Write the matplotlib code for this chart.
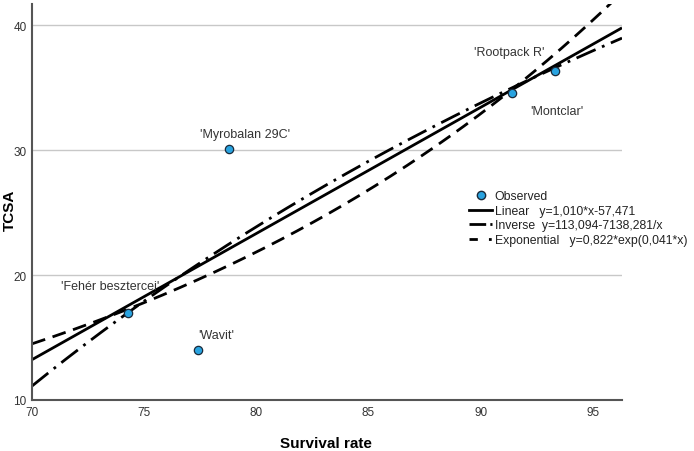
import numpy as np
import matplotlib
matplotlib.use("Agg")
import matplotlib.pyplot as plt
from matplotlib.lines import Line2D

plt.rcParams['font.family'] = ['Liberation Sans', 'DejaVu Sans']

names = ["'Myrobalan 29C'", "'Wavit'", "'Fehér besztercei'", "'Montclar'", "'Rootpack R'"]
survival = [78.8, 77.4, 74.3, 91.4, 93.3]
tcsa = [30.1, 14.0, 17.0, 34.6, 36.3]

lin_coef = [1.010, -57.471]
inv_coef = [113.094, -7138.281]
exp_coef = [0.822, 0.041]

lin_label = "Linear   y=1,010*x-57,471"
inv_label = "Inverse  y=113,094-7138,281/x"
exp_label = "Exponential   y=0,822*exp(0,041*x)"

xmin, xmax = 70, 96.3
ymin, ymax = 10, 41.7

fig = plt.figure(figsize=(6.94, 4.52), dpi=100)
ax = fig.add_axes([32/694, 1-401/452, (622-32)/694, (401-5)/452])

xs = np.linspace(xmin, xmax, 300)
ax.plot(xs, lin_coef[0]*xs + lin_coef[1], color='black', lw=2, solid_capstyle='butt')
ax.plot(xs, inv_coef[0] + inv_coef[1]/xs, color='black', lw=2, dashes=(7.5, 2.5, 1, 2.5))
ax.plot(xs, exp_coef[0]*np.exp(exp_coef[1]*xs), color='black', lw=2, dashes=(5, 2.8))

ax.scatter(survival, tcsa, s=36, color='#29a3e0', edgecolor='#1a2a3a', linewidth=0.9, zorder=5)

pos = {
    "'Myrobalan 29C'": (11, 11),
    "'Wavit'": (13, 11),
    "'Fehér besztercei'": (-13, 19),
    "'Montclar'": (32, -13),
    "'Rootpack R'": (-33, 14),
}
for n, x, y in zip(names, survival, tcsa):
    dx, dy = pos[n]
    ax.annotate(n, (x, y), xytext=(dx, dy), textcoords='offset points',
                ha='center', va='center', fontsize=9, color='#333333')

ax.set_xlim(xmin, xmax)
ax.set_ylim(ymin, ymax)
ax.set_xticks([70, 75, 80, 85, 90, 95])
ax.set_yticks([10, 20, 30, 40])
ax.yaxis.grid(True, color='#c8c8c8', lw=1)
ax.set_axisbelow(True)
ax.tick_params(length=0, labelsize=8.5, labelcolor='#333333', pad=4)
for s in ['top', 'right']:
    ax.spines[s].set_visible(False)
for s in ['left', 'bottom']:
    ax.spines[s].set_color('#555555')
    ax.spines[s].set_linewidth(1.5)

ax.set_xlabel('Survival rate', fontsize=11, fontweight='bold')
ax.set_ylabel('TCSA', fontsize=11, fontweight='bold')
ax.xaxis.set_label_coords((326-32)/590, (401-437)/396)
ax.yaxis.set_label_coords((17-32)/590, (401-210)/396)

handles = [
    Line2D([], [], ls='none', marker='o', markersize=6, markerfacecolor='#29a3e0', markeredgecolor='#1a2a3a'),
    Line2D([], [], color='black', lw=2),
    Line2D([], [], color='black', lw=2, dashes=(6, 1.5, 1, 1.5)),
    Line2D([], [], color='black', lw=2, dashes=(3, 4, 1, 1)),
]
fig.legend(handles, ['Observed', lin_label, inv_label, exp_label],
           loc='upper left', bbox_to_anchor=(463/694, 1-185/452), frameon=False,
           fontsize=8.8, handlelength=1.9, handletextpad=0.2, labelspacing=0.22,
           borderpad=0, labelcolor='#222222')

fig.savefig('out.png', dpi=100)
